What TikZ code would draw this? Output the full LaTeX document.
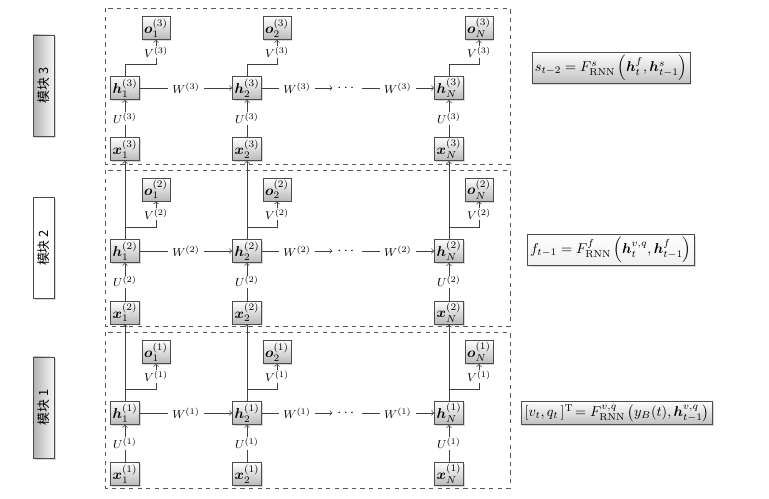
\documentclass[tikz,border=0pt]{standalone}
\usepackage{amsmath}
\usepackage{bm}
\usepackage{fontspec}
\newfontfamily\cjk{Noto Sans CJK SC}
\usetikzlibrary{shadows}

\tikzset{
	unit/.style={draw=black!70, top color=white, bottom color=gray!55, inner sep=1.5pt, minimum height=15pt,
		drop shadow={shadow xshift=1pt, shadow yshift=-1pt, fill=gray!60}},
	lbl/.style={fill=white, inner xsep=3pt, inner ysep=0.6pt, font=\footnotesize},
	conn/.style={draw=black!75, line width=0.5pt, ->},
	frame/.style={draw=black!65, dashed, line width=0.5pt},
	blk/.style={draw=black!70, rotate=90, minimum width=71pt, minimum height=14pt, font=\cjk\small,
		drop shadow={shadow xshift=1pt, shadow yshift=-1pt, fill=gray!60}},
	eqbox/.style={draw=black!70, inner sep=2pt,
		drop shadow={shadow xshift=1pt, shadow yshift=-1pt, fill=gray!60}}
}

\begin{document}
\begin{tikzpicture}[x=0.7pt, y=0.7pt]
			\useasboundingbox (0,0) rectangle (769,-498);
			% frames of the three modules
			\draw [frame] (105,-8) rectangle (510,-164);
			\draw [frame] (105,-170) rectangle (510,-326);
			\draw [frame] (105,-332) rectangle (510,-488);
			% module names
			\node [blk, left color=gray!60, right color=gray!5] (blk3) at (44,-85.5) {模块 3};
			\node [blk, fill=white] (blk2) at (44,-248) {模块 2};
			\node [blk, left color=gray!60, right color=gray!5] (blk1) at (44,-407.5) {模块 1};
			% module 3
			\node [unit] (o13) at (156,-28) {$\bm{o}_1^{(3)}$};
			\node [unit] (o23) at (277,-28) {$\bm{o}_2^{(3)}$};
			\node [unit] (oN3) at (479,-28) {$\bm{o}_N^{(3)}$};
			\node [unit] (h13) at (125,-88) {$\bm{h}_1^{(3)}$};
			\node [unit] (h23) at (247,-88) {$\bm{h}_2^{(3)}$};
			\node (d3) at (347,-88) {$\cdots$};
			\node [unit] (hN3) at (449,-88) {$\bm{h}_N^{(3)}$};
			\node [unit] (x13) at (125,-149) {$\bm{x}_1^{(3)}$};
			\node [unit] (x23) at (247,-149) {$\bm{x}_2^{(3)}$};
			\node [unit] (xN3) at (449,-149) {$\bm{x}_N^{(3)}$};
			% module 2
			\node [unit] (o12) at (156,-189.5) {$\bm{o}_1^{(2)}$};
			\node [unit] (o22) at (277,-189.5) {$\bm{o}_2^{(2)}$};
			\node [unit] (oN2) at (479,-189.5) {$\bm{o}_N^{(2)}$};
			\node [unit] (h12) at (125,-251) {$\bm{h}_1^{(2)}$};
			\node [unit] (h22) at (247,-251) {$\bm{h}_2^{(2)}$};
			\node (d2) at (347,-251) {$\cdots$};
			\node [unit] (hN2) at (449,-251) {$\bm{h}_N^{(2)}$};
			\node [unit] (x12) at (125,-312.5) {$\bm{x}_1^{(2)}$};
			\node [unit] (x22) at (247,-312.5) {$\bm{x}_2^{(2)}$};
			\node [unit] (xN2) at (449,-312.5) {$\bm{x}_N^{(2)}$};
			% module 1
			\node [unit] (o11) at (156,-352) {$\bm{o}_1^{(1)}$};
			\node [unit] (o21) at (277,-352) {$\bm{o}_2^{(1)}$};
			\node [unit] (oN1) at (479,-352) {$\bm{o}_N^{(1)}$};
			\node [unit] (h11) at (125,-413) {$\bm{h}_1^{(1)}$};
			\node [unit] (h21) at (247,-413) {$\bm{h}_2^{(1)}$};
			\node (d1) at (347,-413) {$\cdots$};
			\node [unit] (hN1) at (449,-413) {$\bm{h}_N^{(1)}$};
			\node [unit] (x11) at (125,-474) {$\bm{x}_1^{(1)}$};
			\node [unit] (x21) at (247,-474) {$\bm{x}_2^{(1)}$};
			\node [unit] (xN1) at (449,-474) {$\bm{x}_N^{(1)}$};
			% equations
			\node [eqbox, top color=white, bottom color=gray!50] (eq3) at (611,-68)
				{$s_{t-2} = F^{s}_{\mathrm{RNN}}\left(\bm{h}^{f}_{t}, \bm{h}^{s}_{t-1}\right)$};
			\node [eqbox, top color=white, bottom color=gray!12] (eq2) at (611,-250)
				{$f_{t-1} = F^{f}_{\mathrm{RNN}}\left(\bm{h}^{v,q}_{t}, \bm{h}^{f}_{t-1}\right)$};
			\node [eqbox, top color=white, bottom color=gray!50] (eq1) at (617,-413)
				{$[v_t, q_t\,]^{\mathrm{T}}\!= F^{v,q}_{\mathrm{RNN}}\left(y_B(t), \bm{h}^{v,q}_{t-1}\right)$};
			% inputs to hidden
			\draw [conn] (x13) -- node [lbl] {$U^{(3)}$} (h13);
			\draw [conn] (x23) -- node [lbl] {$U^{(3)}$} (h23);
			\draw [conn] (xN3) -- node [lbl] {$U^{(3)}$} (hN3);
			\draw [conn] (x12) -- node [lbl] {$U^{(2)}$} (h12);
			\draw [conn] (x22) -- node [lbl] {$U^{(2)}$} (h22);
			\draw [conn] (xN2) -- node [lbl] {$U^{(2)}$} (hN2);
			\draw [conn] (x11) -- node [lbl] {$U^{(1)}$} (h11);
			\draw [conn] (x21) -- node [lbl] {$U^{(1)}$} (h21);
			\draw [conn] (xN1) -- node [lbl] {$U^{(1)}$} (hN1);
			% hidden to hidden
			\draw [conn] (h13) -- node [lbl] {$W^{(3)}$} (h23);
			\draw [conn] (h23) -- node [lbl] {$W^{(3)}$} (d3);
			\draw [conn] (d3) -- node [lbl] {$W^{(3)}$} (hN3);
			\draw [conn] (h12) -- node [lbl] {$W^{(2)}$} (h22);
			\draw [conn] (h22) -- node [lbl] {$W^{(2)}$} (d2);
			\draw [conn] (d2) -- node [lbl] {$W^{(2)}$} (hN2);
			\draw [conn] (h11) -- node [lbl] {$W^{(1)}$} (h21);
			\draw [conn] (h21) -- node [lbl] {$W^{(1)}$} (d1);
			\draw [conn] (d1) -- node [lbl] {$W^{(1)}$} (hN1);
			% hidden to output
			\draw [conn] (h13.north) -- ++(0,12) -| node [lbl, pos=0.75] {$V^{(3)}$} (o13.south);
			\draw [conn] (h23.north) -- ++(0,12) -| node [lbl, pos=0.75] {$V^{(3)}$} (o23.south);
			\draw [conn] (hN3.north) -- ++(0,12) -| node [lbl, pos=0.75] {$V^{(3)}$} (oN3.south);
			\draw [conn] (h12.north) -- ++(0,12) -| node [lbl, pos=0.75] {$V^{(2)}$} (o12.south);
			\draw [conn] (h22.north) -- ++(0,12) -| node [lbl, pos=0.75] {$V^{(2)}$} (o22.south);
			\draw [conn] (hN2.north) -- ++(0,12) -| node [lbl, pos=0.75] {$V^{(2)}$} (oN2.south);
			\draw [conn] (h11.north) -- ++(0,12) -| node [lbl, pos=0.75] {$V^{(1)}$} (o11.south);
			\draw [conn] (h21.north) -- ++(0,12) -| node [lbl, pos=0.75] {$V^{(1)}$} (o21.south);
			\draw [conn] (hN1.north) -- ++(0,12) -| node [lbl, pos=0.75] {$V^{(1)}$} (oN1.south);
			% hidden to next module input
			\draw [conn] (h11) -- (x12);
			\draw [conn] (h21) -- (x22);
			\draw [conn] (hN1) -- (xN2);
			\draw [conn] (h12) -- (x13);
			\draw [conn] (h22) -- (x23);
			\draw [conn] (hN2) -- (xN3);
		\end{tikzpicture}
\end{document}
